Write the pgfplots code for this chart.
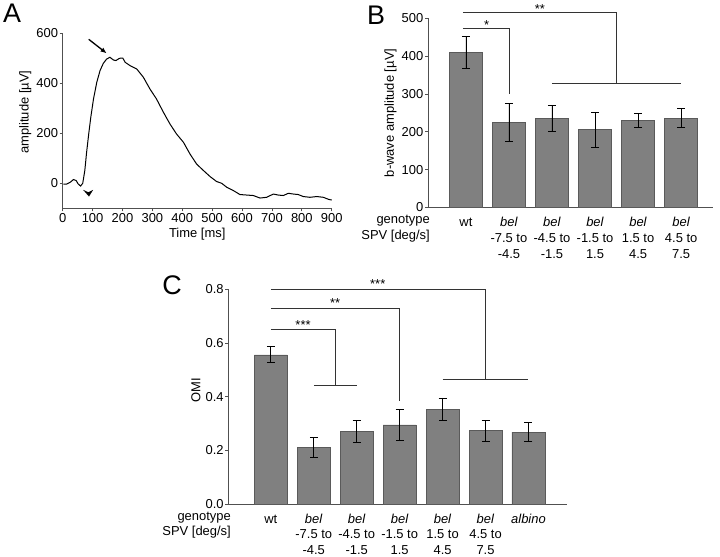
\documentclass[border=0pt]{standalone}
\usepackage{pgfplots}
\pgfplotsset{compat=1.18}
\usepackage{fontspec}
\setmainfont{Liberation Sans}
\usetikzlibrary{arrows.meta}

\definecolor{barfill}{RGB}{128,128,128}
\definecolor{baredge}{RGB}{90,90,90}
\definecolor{axgray}{RGB}{80,80,80}
\newcommand{\lbl}{\fontsize{13}{15.8}\selectfont}

\tikzset{
  bracket/.style={black!80, line width=0.8bp},
  star/.style={font=\lbl, inner sep=0pt, yshift=-3bp},
}
\pgfplotsset{
  panel/.style={
    scale only axis, axis lines*=left,
    axis line style={axgray, line width=0.8bp, -},
    tick align=outside, major tick length=3bp,
    tick style={axgray, line width=0.8bp},
    every tick label/.append style={font=\lbl},
    /pgf/number format/assume math mode=true,
    yticklabel style={inner sep=1.5bp},
    xticklabel style={inner sep=2bp},
    label style={font=\lbl},
    clip=false, anchor=south west,
  },
  barpanel/.style={
    panel, ymin=0, xtick style={draw=none},
    xticklabel style={align=center, anchor=north, inner sep=0pt, yshift=-5bp},
  },
  bars/.style={
    ybar, bar width=33bp, fill=barfill, draw=baredge, line width=0.5bp,
    error bars/.cd, y dir=both, y explicit,
    error bar style={black, line width=0.7bp},
    error mark options={rotate=90, mark size=4bp, black, line width=0.7bp},
  },
}

\begin{document}
\begin{tikzpicture}
\useasboundingbox (0,0) rectangle (720bp,557bp);

% ---- A: ERG trace
\begin{axis}[panel,
  at={(62.7bp,348.7bp)}, width=269bp, height=175bp,
  xmin=0, xmax=900, ymin=-100, ymax=600,
  xtick={0,100,...,900}, ytick={0,200,400,600},
  xlabel={Time [ms]}, ylabel={amplitude [µV]},
  ylabel style={at={(ticklabel cs:0.55)}},
]
\addplot[black, line width=1bp] coordinates {
(2,-3) (13,-3) (25,4) (36,15) (45,11) (52,-3) (60,-11) (67,0) (74,51)
(80,124) (87,197) (94,264) (103,337) (114,404) (125,451) (136,480)
(147,497) (158,504) (170,493) (178,491) (190,500) (201,501) (209,484)
(225,471) (248,457) (270,424) (292,377) (314,337) (337,284) (359,237)
(381,197) (404,164) (426,117) (448,77) (471,51) (493,27) (515,7)
(532,0) (549,-16) (571,-29) (593,-45) (616,-47) (638,-49) (660,-59)
(682,-56) (705,-43) (721,-47) (738,-49) (755,-40) (772,-43) (788,-45)
(805,-53) (827,-56) (850,-53) (872,-56) (889,-64) (900,-67)
};
\draw[line width=1.3bp, -{Latex[length=6bp,width=5bp]}] (axis cs:87,576) -- (axis cs:147,520);
\fill (axis cs:68,-26) -- (axis cs:86,-36) -- (axis cs:102,-26) -- (axis cs:88,-53) -- cycle;
\end{axis}

% ---- B: b-wave amplitude
\begin{axis}[barpanel,
  at={(428bp,349.5bp)}, width=285bp, height=189.2bp,
  xmin=-0.88, xmax=5.74, ymax=500,
  ytick={0,100,...,500},
  xtick={0,...,5},
  xticklabels={{\strut wt},{\strut\textit{bel}\\-7.5 to\\-4.5},{\strut\textit{bel}\\-4.5 to\\-1.5},{\strut\textit{bel}\\-1.5 to\\1.5},{\strut\textit{bel}\\1.5 to\\4.5},{\strut\textit{bel}\\4.5 to\\7.5}},
  ylabel={b-wave amplitude [µV]},
]
\addplot[bars] coordinates {
(0,410) +- (0,42)
(1,224) +- (0,50)
(2,236) +- (0,34)
(3,206) +- (0,46)
(4,230) +- (0,19)
(5,236) +- (0,25)
};
\draw[bracket] (axis cs:-0.07,474) -| (axis cs:1,300);
\draw[bracket] (axis cs:-0.07,516) -| (axis cs:3.5,328);
\draw[bracket] (axis cs:2,328) -- (axis cs:5,328);
\node[star] at (axis cs:0.48,491) {*};
\node[star] at (axis cs:1.72,532) {**};
\end{axis}
\node[anchor=north east, align=right, font=\lbl, inner sep=0pt] at (430bp,344.5bp) {\strut genotype\\SPV [deg/s]};

% ---- C: OMI
\begin{axis}[barpanel,
  at={(228.3bp,53bp)}, width=338.4bp, height=214.7bp,
  xmin=-0.99, xmax=6.89, ymax=0.8,
  ytick={0,0.2,...,0.8},
  yticklabel style={/pgf/number format/.cd, fixed, fixed zerofill, precision=1},
  xtick={0,...,6},
  xticklabels={{\strut wt},{\strut\textit{bel}\\-7.5 to\\-4.5},{\strut\textit{bel}\\-4.5 to\\-1.5},{\strut\textit{bel}\\-1.5 to\\1.5},{\strut\textit{bel}\\1.5 to\\4.5},{\strut\textit{bel}\\4.5 to\\7.5},{\strut\textit{albino}}},
  ylabel={OMI},
  ylabel style={at={(ticklabel cs:0.53)}},
]
\addplot[bars] coordinates {
(0,0.556) +- (0,0.030)
(1,0.210) +- (0,0.037)
(2,0.270) +- (0,0.041)
(3,0.295) +- (0,0.058)
(4,0.353) +- (0,0.042)
(5,0.273) +- (0,0.038)
(6,0.268) +- (0,0.036)
};
\draw[bracket] (axis cs:0,0.80) -| (axis cs:5,0.4625);
\draw[bracket] (axis cs:4,0.4625) -- (axis cs:6,0.4625);
\draw[bracket] (axis cs:0,0.729) -| (axis cs:3,0.385);
\draw[bracket] (axis cs:0,0.65) -| (axis cs:1.5,0.441);
\draw[bracket] (axis cs:1,0.441) -- (axis cs:2,0.441);
\node[star] at (axis cs:2.49,0.8325) {***};
\node[star] at (axis cs:1.5,0.76) {**};
\node[star] at (axis cs:0.75,0.679) {***};
\end{axis}
\node[anchor=north east, align=right, font=\lbl, inner sep=0pt] at (231bp,48bp) {\strut genotype\\SPV [deg/s]};

% panel letters
\node[font=\fontsize{27}{30}\selectfont] at (12bp,544bp) {A};
\node[font=\fontsize{27}{30}\selectfont] at (376bp,542bp) {B};
\node[font=\fontsize{27}{30}\selectfont] at (172bp,272bp) {C};
\end{tikzpicture}
\end{document}
